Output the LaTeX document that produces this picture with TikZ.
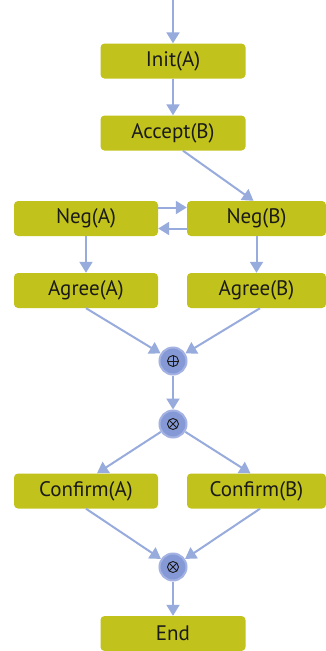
\documentclass[tikz,border=0pt]{standalone}
\usepackage{fontspec}
\setmainfont{PT Sans}
\usetikzlibrary{arrows.meta}
\definecolor{boxfill}{HTML}{C2C21C}
\definecolor{arrowc}{HTML}{98ABDD}
\definecolor{circfill}{HTML}{8599D6}
\definecolor{circedge}{HTML}{A3B2E2}
\definecolor{txt}{HTML}{1A1A1A}
\begin{document}
\begin{tikzpicture}[x=1pt,y=-1pt,
  stepbox/.style={fill=boxfill, rounded corners=4pt, inner sep=0pt, minimum width=145pt, minimum height=35pt, text=txt, font=\fontsize{21}{21}\selectfont},
  opnode/.style={circle, fill=circfill, draw=circedge, line width=2pt, minimum size=27pt, inner sep=0pt, text=txt},
  flow/.style={draw=arrowc, line width=2pt, -{Triangle[width=13pt,length=11pt]}, shorten >=0pt}]
\useasboundingbox (0,0) rectangle (326,651);
\fill[white] (0,0) rectangle (326,651);
\coordinate (start) at (173,0);
\node[stepbox] (initA) at (173,61) {Init(A)};
\node[stepbox] (acceptB) at (173,133) {Accept(B)};
\node[stepbox, minimum width=144pt] (negA) at (86,218.5) {Neg(A)};
\node[stepbox, minimum width=139pt] (negB) at (256.5,218.5) {Neg(B)};
\node[stepbox, minimum width=144pt] (agreeA) at (86,290.5) {Agree(A)};
\node[stepbox, minimum width=139pt] (agreeB) at (256.5,290.5) {Agree(B)};
\node[opnode] (oplus) at (173,361) {\tikz[x=1pt,y=1pt]{\draw[line width=0.9pt] (0,0) circle (5.5pt); \draw[line width=0.9pt] (-5.5,0)--(5.5,0) (0,-5.5)--(0,5.5);}};
\node[opnode] (otimes1) at (173,424) {\tikz[x=1pt,y=1pt]{\draw[line width=0.9pt] (0,0) circle (5.5pt); \draw[line width=0.9pt] (-3.9,-3.9)--(3.9,3.9) (-3.9,3.9)--(3.9,-3.9);}};
\node[stepbox, minimum width=144pt] (confA) at (86,491) {Confirm(A)};
\node[stepbox, minimum width=139pt] (confB) at (256.5,491) {Confirm(B)};
\node[opnode] (otimes2) at (173,567) {\tikz[x=1pt,y=1pt]{\draw[line width=0.9pt] (0,0) circle (5.5pt); \draw[line width=0.9pt] (-3.9,-3.9)--(3.9,3.9) (-3.9,3.9)--(3.9,-3.9);}};
\node[stepbox] (endn) at (173,633.5) {End};

\draw[flow] (start) -- (initA);
\draw[flow] (initA) -- (acceptB);
\draw[flow] ([xshift=10pt]acceptB.south) -- ([xshift=-3pt]negB.north);
\draw[flow] ([yshift=11pt]negA.east) -- ([yshift=11pt]negB.west);
\draw[flow] ([yshift=-10pt]negB.west) -- ([yshift=-10pt]negA.east);
\draw[flow] (negA) -- (agreeA);
\draw[flow] (negB) -- (agreeB);
\draw[flow] (agreeA.south) -- (oplus);
\draw[flow] ([xshift=3.5pt]agreeB.south) -- (oplus);
\draw[flow] (oplus) -- (otimes1);
\draw[flow] (otimes1) -- ([xshift=11pt]confA.north);
\draw[flow] (otimes1) -- ([xshift=-6pt]confB.north);
\draw[flow] (confA.south) -- (otimes2);
\draw[flow] ([xshift=3.5pt]confB.south) -- (otimes2);
\draw[flow] (otimes2) -- (endn);
\end{tikzpicture}
\end{document}
